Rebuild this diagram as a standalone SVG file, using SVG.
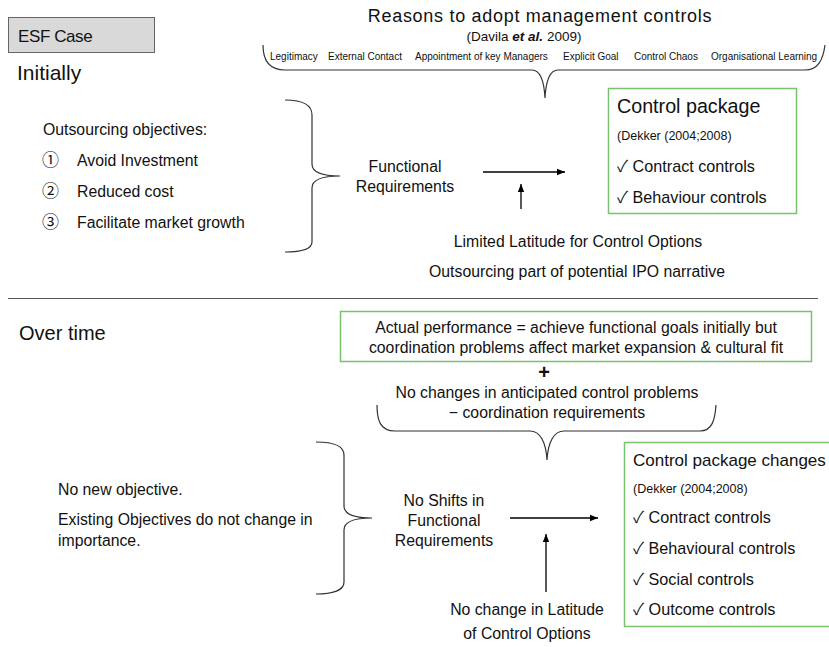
<svg xmlns="http://www.w3.org/2000/svg" width="829" height="647" viewBox="0 0 829 647">
<style>
text{font-family:"Liberation Sans","Noto Sans CJK JP","DejaVu Sans",sans-serif;fill:#111}
.m{font-size:15.8px}
.s{font-size:10px}
.c{text-anchor:middle}
.num{font-family:"Noto Sans CJK JP","DejaVu Sans",sans-serif;font-size:17px}
.chk{font-size:16.2px}
.brace{fill:none;stroke:#333;stroke-width:1.2}
.gbox{fill:#fff;stroke:#79c16c;stroke-width:1.5}
.ln{stroke:#000;stroke-width:1.3;fill:none}
</style>
<defs>
<marker id="ah" viewBox="0 0 10 10" refX="10" refY="5" markerWidth="8" markerHeight="8" markerUnits="userSpaceOnUse" orient="auto"><path d="M0,1 L10,5 L0,9 z" fill="#000"/></marker>
</defs>
<rect width="829" height="647" fill="#fff"/>

<g id="esf-case">
<rect x="8.5" y="17.5" width="146" height="35" fill="#d9d9d9" stroke="#666" stroke-width="1"/>
<text x="18" y="42" style="font-size:17px;letter-spacing:-0.4px">ESF Case</text>
</g>
<g id="initially"><text x="17" y="80" style="font-size:21px">Initially</text></g>

<g id="reasons">
<text x="540" y="22" class="c" style="font-size:18px;letter-spacing:0.7px">Reasons to adopt management controls</text>
<text x="524" y="41" class="c" style="font-size:13.5px">(Davila <tspan font-weight="bold" font-style="italic">et al.</tspan> 2009)</text>
<text x="270" y="60" class="s">Legitimacy</text>
<text x="328" y="60" class="s">External Contact</text>
<text x="415" y="60" class="s">Appointment of key Managers</text>
<text x="563" y="60" class="s">Explicit Goal</text>
<text x="634" y="60" class="s">Control Chaos</text>
<text x="711" y="60" class="s">Organisational Learning</text>
</g>

<g id="objectives">
<text x="43" y="135" class="m">Outsourcing objectives:</text>
<text x="42" y="166" class="num">①</text><text x="77" y="166" class="m">Avoid Investment</text>
<text x="42" y="197" class="num">②</text><text x="77" y="197" class="m">Reduced cost</text>
<text x="42" y="228" class="num">③</text><text x="77" y="228" class="m">Facilitate market growth</text>
</g>

<g id="functional-req">
<text x="405" y="172" class="m c">Functional</text>
<text x="405" y="192" class="m c">Requirements</text>
</g>

<g id="control-package">
<rect x="608.5" y="88.5" width="188" height="125" class="gbox"/>
<text x="617" y="113" style="font-size:19.7px">Control package</text>
<text x="617" y="140" style="font-size:12.5px">(Dekker (2004;2008)</text>
<text x="617" y="172" class="chk">✓ Contract controls</text>
<text x="617" y="203" class="chk">✓ Behaviour controls</text>
</g>

<g id="latitude">
<text x="578" y="247" class="m c">Limited Latitude for Control Options</text>
<text x="577" y="277" class="m c">Outsourcing part of potential IPO narrative</text>
</g>

<g id="divider"><line x1="8" y1="298.5" x2="818" y2="298.5" stroke="#555" stroke-width="1"/></g>

<g id="over-time"><text x="19" y="340" style="font-size:20px">Over time</text></g>

<g id="actual-performance">
<rect x="340.5" y="311.5" width="471" height="50" class="gbox"/>
<text x="576" y="333" class="m c">Actual performance = achieve functional goals initially but</text>
<text x="576" y="353" class="m c">coordination problems affect market expansion &amp; cultural fit</text>
</g>
<g id="plus"><text x="544" y="379" class="c" style="font-size:20px;font-weight:bold">+</text></g>
<g id="no-changes">
<text x="547" y="398" class="m c">No changes in anticipated control problems</text>
<text x="547" y="418" class="m c">− coordination requirements</text>
</g>

<g id="no-new-objective">
<text x="58" y="495" class="m">No new objective.</text>
<text x="58" y="525" class="m">Existing Objectives do not change in</text>
<text x="58" y="546" class="m">importance.</text>
</g>

<g id="no-shifts">
<text x="444" y="506" class="m c">No Shifts in</text>
<text x="444" y="526" class="m c">Functional</text>
<text x="444" y="546" class="m c">Requirements</text>
</g>

<g id="no-change-latitude">
<text x="527" y="615" class="m c">No change in Latitude</text>
<text x="527" y="639" class="m c">of Control Options</text>
</g>

<g id="control-package-changes">
<rect x="624.5" y="442.5" width="215" height="184" class="gbox"/>
<text x="633" y="466" style="font-size:17px">Control package changes</text>
<text x="633" y="493" style="font-size:12.5px">(Dekker (2004;2008)</text>
<text x="633" y="523" class="chk">✓ Contract controls</text>
<text x="633" y="554" class="chk">✓ Behavioural controls</text>
<text x="633" y="585" class="chk">✓ Social controls</text>
<text x="633" y="615" class="chk">✓ Outcome controls</text>
</g>

<g id="connectors">
<path class="brace" d="M263,45 C263,58 268,70 285,70 L532,70 C540,70 544,80 545,98 C546,80 550,70 558,70 L805,70 C818,70 823,60 825,45"/>
<path class="brace" d="M285,100 C302,100 312,104 312,115 L312,164 C312,172 320,176 340,176 C320,176 312,180 312,188 L312,242 C312,249 302,252 285,252"/>
<path class="brace" d="M316,442 C333,442 344,446 344,455 L344,506 C344,514 352,518 372,518 C352,518 344,522 344,530 L344,582 C344,590 333,594 316,594"/>
<path class="brace" d="M377,405 C377,420 380,431 395,431 L530,431 C540,431 546,442 547,460 C548,442 554,431 564,431 L700,431 C712,431 715,420 716,405"/>
<line class="ln" x1="483" y1="172" x2="565" y2="172" marker-end="url(#ah)"/>
<line class="ln" x1="521" y1="209" x2="521" y2="184" marker-end="url(#ah)"/>
<line class="ln" x1="510" y1="518" x2="598" y2="518" marker-end="url(#ah)"/>
<line class="ln" x1="546" y1="592" x2="546" y2="534" marker-end="url(#ah)"/>
</g>
</svg>
